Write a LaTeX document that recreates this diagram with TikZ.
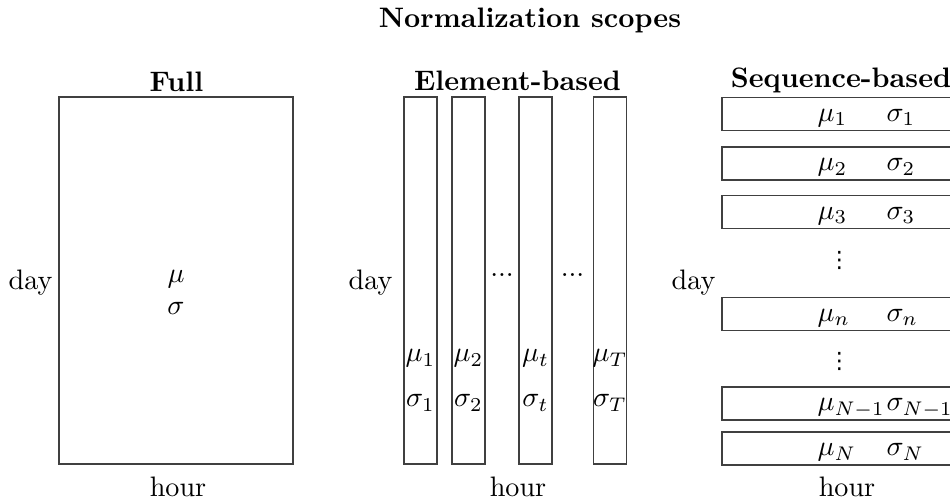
\documentclass[tikz,border=0pt]{standalone}
\usepackage{amsmath,amssymb}
\usepackage{fontspec}
\newfontfamily\symfont{DejaVu Sans}
\usepackage{tikz}
\usetikzlibrary{positioning}

\begin{document}
\begin{tikzpicture}[
    x=0.355pt, y=-0.355pt,
    box/.style={draw=black!75, line width=0.42pt, inner sep=0pt, outer sep=0pt},
    fullbox/.style={box, minimum width=83.07pt, minimum height=130.29pt},
    colbox/.style={box, minimum width=11.72pt, minimum height=130.29pt},
    rowbox/.style={box, minimum width=88.04pt, minimum height=11.72pt},
    head/.style={font=\bfseries, anchor=base, inner sep=0pt},
    lab/.style={anchor=base, inner sep=0pt},
    axlab/.style={anchor=base east, inner sep=0pt},
    rowlab/.style={anchor=base west, inner sep=0pt},
    vdotlab/.style={font=\symfont\fontsize{8}{8}\selectfont, inner sep=0pt}
]
\useasboundingbox (0,0) rectangle (950,500);
\clip (0,0) rectangle (950,500);

\node[head] (title) at (530,28) {Normalization scopes};

% full
\node[head] (hfull) at (176.5,92) {Full};
\node[fullbox] (full) at (176,280.5) {};
\node[lab] (fullmu) at (176,283) {$\mu$};
\node[lab] (fullsig) at (176,315) {$\sigma$};
\node[axlab] (dayfull) at (53,290) {day};
\node[lab] (hourfull) at (178,497) {hour};

% element-based
\node[head] (helem) at (517.5,91) {Element-based};
\foreach \x/\n/\s in {420.5/c1/1, 468.5/c2/2, 535.5/ct/t, 610/cT/T} {
  \node[colbox] (\n) at (\x,280.5) {};
  \node[lab] (\n-mu) at (\x,362) {$\mu_{\s}$};
  \node[lab] (\n-sig) at (\x,407) {$\sigma_{\s}$};
}
\node[lab] (dots1) at (502,276.5) {...};
\node[lab] (dots2) at (572.5,276.5) {...};
\node[axlab] (dayelem) at (393,290) {day};
\node[lab] (hourelem) at (518,497) {hour};

% sequence-based
\node[head] (hseq) at (841,88) {Sequence-based};
\foreach \y/\n/\s in {114/r1/1, 163.5/r2/2, 212/r3/3, 314/rn/n, 403.5/rm/N-1, 448.5/rN/N} {
  \node[rowbox] (\n) at (846,\y) {};
  \node[rowlab] (\n-mu) at (817,\y+7.5) {$\mu_{\s}$};
  \node[rowlab] (\n-sig) at (886,\y+7.5) {$\sigma_{\s}$};
}
\node[vdotlab] (vd1) at (839.5,261) {⋮};
\node[vdotlab] (vd2) at (839.5,362) {⋮};
\node[axlab] (dayseq) at (716,290) {day};
\node[lab] (hourseq) at (847,497) {hour};
\end{tikzpicture}
\end{document}
